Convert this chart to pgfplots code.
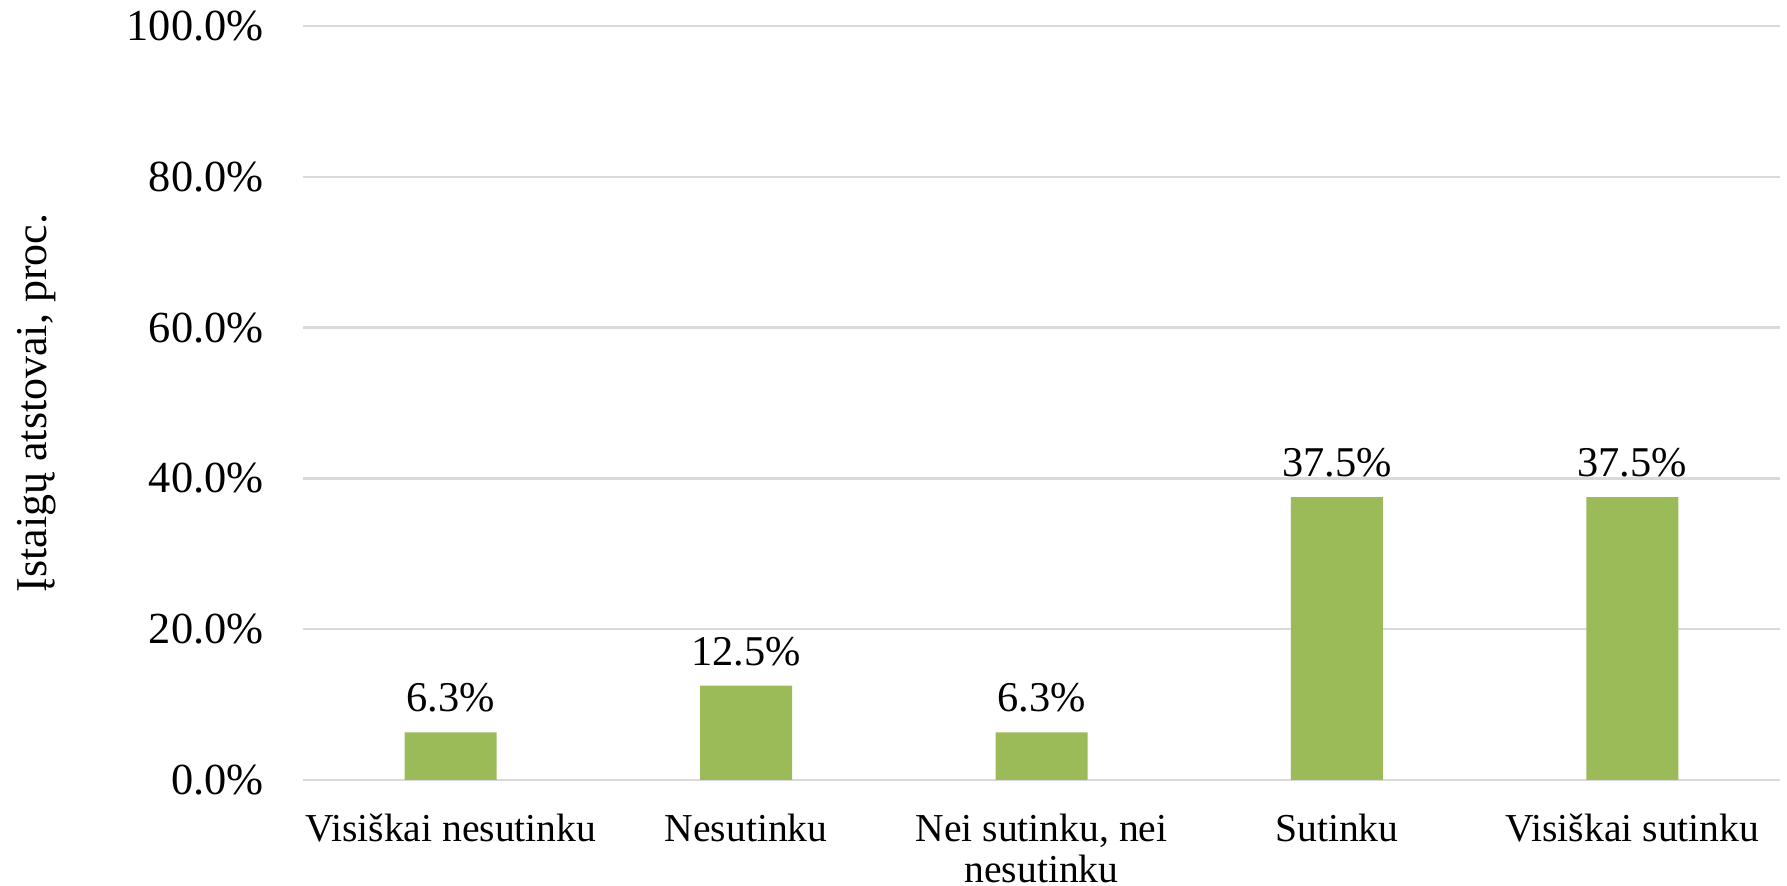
\documentclass[border=0pt]{standalone}
\usepackage{fontspec}
\setmainfont{Liberation Serif}
\usepackage{pgfplots}
\pgfplotsset{compat=1.18}

\definecolor{bargreen}{HTML}{9BBB59}
\definecolor{gridgray}{HTML}{D9D9D9}

\begin{document}
\begin{tikzpicture}
\begin{axis}[
  scale only axis,
  width=369.25pt, height=188.5pt,
  xmin=-0.5, xmax=4.5,
  ymin=0, ymax=100,
  /pgf/number format/assume math mode=true,
  axis lines*=left,
  axis line style={-},
  x axis line style={draw=gridgray, line width=0.6pt},
  y axis line style={draw=none},
  ymajorgrids,
  grid style={gridgray, line width=0.6pt},
  ytick={0,20,40,60,80,100},
  yticklabel={\pgfmathprintnumber[fixed,fixed zerofill,precision=1]{\tick}\%},
  ytick style={draw=none},
  yticklabel style={font=\fontsize{11.1}{13}\selectfont, inner ysep=1pt, xshift=-6.3pt},
  xtick={0,1,2,3,4},
  xticklabels={Visiškai nesutinku, Nesutinku, {Nei sutinku, nei\\nesutinku}, Sutinku, Visiškai sutinku},
  xticklabel style={font=\fontsize{9.9}{10.2}\selectfont, align=center,
    inner sep=0pt, yshift=-8.3pt},
  major x tick style={draw=none},
  extra x ticks={-0.5,0.5,1.5,2.5,3.5,4.5},
  extra x tick labels={},
  extra x tick style={major tick length=2.5pt, tick align=outside,
    tick style={draw=gridgray, line width=0.6pt}},
  ylabel={Įstaigų atstovai, proc.},
  ylabel style={font=\fontsize{11}{13}\selectfont,
    at={(axis description cs:-0.180,0.5)}, anchor=center},
  clip=false,
]
\addplot[ybar, bar width=23pt, fill=bargreen, draw=none,
  nodes near coords={\pgfmathprintnumber[fixed,fixed zerofill,precision=1]{\pgfplotspointmeta}\%},
  nodes near coords style={font=\fontsize{10.6}{12}\selectfont, yshift=1.5pt}]
  coordinates {(0,6.3) (1,12.5) (2,6.3) (3,37.5) (4,37.5)};
\coordinate (sw) at (rel axis cs:0,0);
\coordinate (ne) at (rel axis cs:1,1);
\end{axis}
% fixed margins around the plot area
\path (sw) ++(-75.75pt,-26.5pt);
\path (ne) ++(1.75pt,6.5pt);
\end{tikzpicture}
\end{document}
